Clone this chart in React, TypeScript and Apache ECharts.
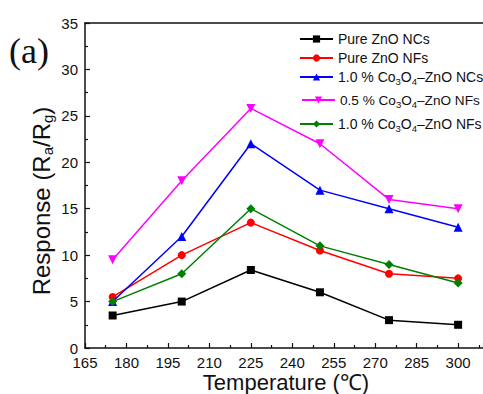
import React, { useEffect, useRef } from "react";
import * as echarts from "echarts";

const temperatures = [175, 200, 225, 250, 275, 300];
const seriesNames = [
  "Pure ZnO NCs",
  "Pure ZnO NFs",
  "1.0 % Co3O4–ZnO NCs",
  "0.5 % Co3O4–ZnO NFs",
  "1.0 % Co3O4–ZnO NFs",
];
const pureZnONCs = [3.5, 5, 8.4, 6, 3, 2.5];
const pureZnONFs = [5.5, 10, 13.5, 10.5, 8, 7.5];
const co10NCs = [5, 12, 22, 17, 15, 13];
const co05NFs = [9.5, 18, 25.8, 22, 16, 15];
const co10NFs = [5, 8, 15, 11, 9, 7];
const seriesValues = [pureZnONCs, pureZnONFs, co10NCs, co05NFs, co10NFs];
const seriesColors = ["#000000", "#ff0000", "#0000ff", "#ff00ff", "#008000"];
const seriesSymbols = ["rect", "circle", "triangle", "triangle", "diamond"];
const seriesSymbolRotate = [0, 0, 0, 180, 0];
const seriesSymbolSize = [8, 8, 9, 9, 9];

const FONT = "'Liberation Sans', Arial, sans-serif";

// legend row positions (left edge of icon, centre y of text)
const legendLeft = [299, 299, 299, 301, 299];
const legendCenterY = [38, 57, 77, 100, 124];

export default function App() {
  const ref = useRef<HTMLDivElement>(null);
  useEffect(() => {
    if (!ref.current) return;
    const chart = echarts.init(ref.current, undefined, { renderer: "svg" });
    const series = seriesNames.map((name, i) => ({
      name,
      type: "line",
      data: temperatures.map((t, j) => [t, seriesValues[i][j]]),
      symbol: seriesSymbols[i],
      symbolSize: seriesSymbolSize[i],
      symbolRotate: seriesSymbolRotate[i],
      itemStyle: { color: seriesColors[i] },
      lineStyle: { color: seriesColors[i], width: 1.5 },
      z: 2 + i,
    }));
    const sub = { fontSize: 9.5, fontFamily: FONT, color: "#111", padding: [9, 0, 0, 0] };
    const legends = seriesNames.map((name, i) => ({
      orient: "vertical",
      left: legendLeft[i],
      top: legendCenterY[i] - (i < 2 ? 6 : 7),
      padding: 0,
      itemWidth: 33,
      itemHeight: 9,
      data: [name],
      formatter: (n: string) => n.replace("Co3O4", "Co{s|3}O{s|4}"),
      textStyle: {
        color: "#111",
        fontSize: i === 3 ? 13.6 : 14,
        fontFamily: FONT,
        rich: { s: sub },
      },
    }));
    chart.setOption({
      animation: false,
      backgroundColor: "#ffffff",
      grid: { left: 85, top: 23, right: 0, bottom: 46, containLabel: false },
      xAxis: [
        {
          type: "value",
          min: 165,
          max: 309,
          interval: 15,
          axisLine: { show: true, lineStyle: { color: "#111", width: 1.5 } },
          axisTick: { show: true, inside: true, length: 5, lineStyle: { color: "#111", width: 1.2 } },
          minorTick: { show: true, splitNumber: 2, length: 3, lineStyle: { color: "#111", width: 1.2 } },
          axisLabel: { color: "#111", fontSize: 15, fontFamily: FONT, margin: 7, showMaxLabel: false },
          splitLine: { show: false },
        },
        {
          type: "value",
          position: "top",
          min: 165,
          max: 309,
          interval: 15,
          axisLine: { show: true, lineStyle: { color: "#111", width: 1.5 } },
          axisTick: { show: false },
          axisLabel: { show: false },
          splitLine: { show: false },
        },
      ],
      yAxis: {
        type: "value",
        min: 0,
        max: 35,
        interval: 5,
        axisLine: { show: true, lineStyle: { color: "#111", width: 1.5 } },
        axisTick: { show: true, inside: true, length: 5, lineStyle: { color: "#111", width: 1.2 } },
        minorTick: { show: true, splitNumber: 2, length: 3, lineStyle: { color: "#111", width: 1.2 } },
        axisLabel: { color: "#111", fontSize: 15, fontFamily: FONT, margin: 7 },
        splitLine: { show: false },
      },
      legend: legends,
      graphic: [
        {
          type: "text",
          left: 9,
          top: 33,
          style: { text: "(a)", font: "36px 'Liberation Serif', 'Times New Roman', serif", fill: "#111" },
        },
        {
          type: "text",
          x: 286,
          y: 382,
          style: {
            text: "Temperature (℃)",
            font: `22px ${FONT}`,
            fill: "#111",
            align: "center",
            verticalAlign: "middle",
          },
        },
        {
          type: "text",
          x: 41,
          y: 201,
          rotation: Math.PI / 2,
          style: {
            text: "Response (R{s|a}/R{s|g})",
            font: `24px ${FONT}`,
            fill: "#111",
            align: "center",
            verticalAlign: "middle",
            rich: {
              s: { fontSize: 15, fontFamily: FONT, fill: "#111", padding: [12, 0, 0, 0] },
            },
          },
        },
      ],
      series,
    });
    return () => chart.dispose();
  }, []);
  return (
    <div
      ref={ref}
      style={{ position: "absolute", left: 0, top: 0, width: 483, height: 394 }}
    />
  );
}
